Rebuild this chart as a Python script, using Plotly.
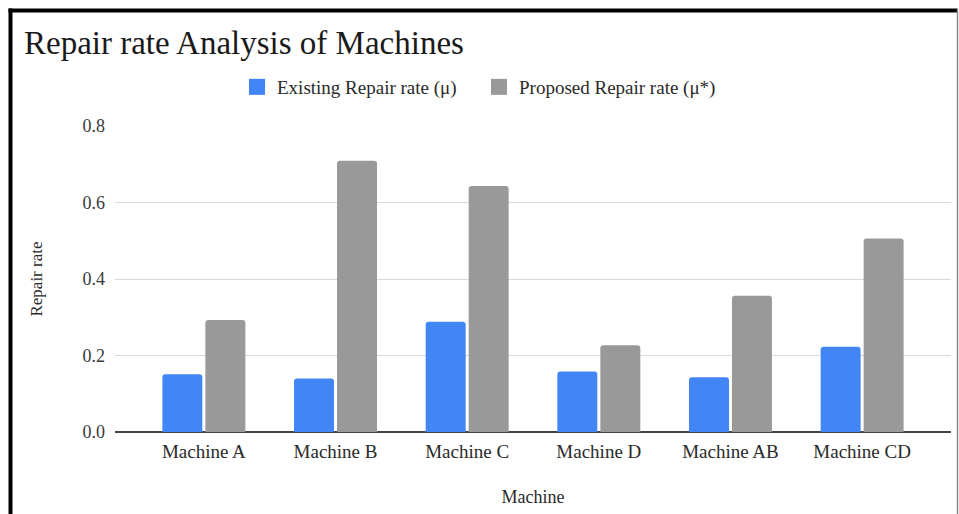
import plotly.graph_objects as go

# Data
machines = ["Machine A", "Machine B", "Machine C", "Machine D", "Machine AB", "Machine CD"]
existing_rate = [0.151, 0.140, 0.288, 0.158, 0.143, 0.223]
proposed_rate = [0.293, 0.709, 0.643, 0.227, 0.356, 0.506]
series_names = ["Existing Repair rate (μ)", "Proposed Repair rate (μ*)"]
y_ticks = [0.0, 0.2, 0.4, 0.6, 0.8]

BLUE = "#4285F4"
GRAY = "#999999"
FONT = "Liberation Serif, Times New Roman, serif"
TEXT = "#2a2a2a"

W, H = 959, 514
M_L, M_R, M_T, M_B = 115, 8, 126, 82
PW, PH = W - M_L - M_R, H - M_T - M_B


def px_x(px):
    return (px - M_L) / PW


def px_y(py):
    return (H - M_B - py) / PH


fig = go.Figure()
for name, vals, col in [(series_names[0], existing_rate, BLUE),
                        (series_names[1], proposed_rate, GRAY)]:
    fig.add_trace(go.Bar(
        x=machines, y=vals, name=name, showlegend=False,
        marker=dict(color=col, line=dict(width=0), cornerradius=3),
    ))
    # square legend swatch
    fig.add_trace(go.Scatter(
        x=[None], y=[None], mode="markers", name=name,
        marker=dict(symbol="square", size=16, color=col),
    ))

# outer frame: heavy top/left border, thin right edge
frame = [
    dict(x0=px_x(8.5), x1=px_x(957.5), y0=px_y(10.5), y1=px_y(10.5), color="#000000", width=4),
    dict(x0=px_x(10.5), x1=px_x(10.5), y0=px_y(8.5), y1=px_y(514), color="#000000", width=4),
    dict(x0=px_x(957.5), x1=px_x(957.5), y0=px_y(10), y1=px_y(514), color="#888888", width=1.5),
]
for f in frame:
    fig.add_shape(type="line", xref="paper", yref="paper",
                  x0=f["x0"], x1=f["x1"], y0=f["y0"], y1=f["y1"],
                  line=dict(color=f["color"], width=f["width"]), layer="above")

fig.update_layout(
    width=W, height=H,
    margin=dict(l=M_L, r=M_R, t=M_T, b=M_B, autoexpand=False),
    paper_bgcolor="white", plot_bgcolor="white",
    font=dict(family=FONT, color=TEXT),
    title=dict(text="Repair rate Analysis of Machines",
               font=dict(family=FONT, size=33, color="#1a1a1a"),
               x=24 / W, xanchor="left", xref="container",
               y=1 - 42 / H, yanchor="middle", yref="container"),
    legend=dict(orientation="h", xref="container", yref="container",
                x=479 / W, xanchor="center", y=1 - 87 / H, yanchor="middle",
                entrywidth=197, entrywidthmode="pixels",
                font=dict(family=FONT, size=19, color=TEXT),
                bgcolor="rgba(0,0,0,0)"),
    barmode="group", bargap=0.347, bargroupgap=0.07,
    xaxis=dict(range=[-0.675, 5.675], showgrid=False, zeroline=False,
               showline=False, ticks="", ticklabelstandoff=6,
               tickfont=dict(family=FONT, size=19, color=TEXT),
               title=dict(text="Machine", font=dict(family=FONT, size=18, color=TEXT),
                          standoff=29)),
    yaxis=dict(range=[0, 0.8], tickvals=y_ticks, tickformat=".1f",
               showgrid=True, gridcolor="#d9d9d9", gridwidth=1,
               zeroline=True, zerolinecolor="#444444", zerolinewidth=1.5,
               showline=False, ticks="", ticklabelstandoff=9,
               tickfont=dict(family=FONT, size=18, color="#3a3a3a"),
               title=dict(text="Repair rate", font=dict(family=FONT, size=17, color=TEXT),
                          standoff=35)),
)

fig.write_html("out.html")
